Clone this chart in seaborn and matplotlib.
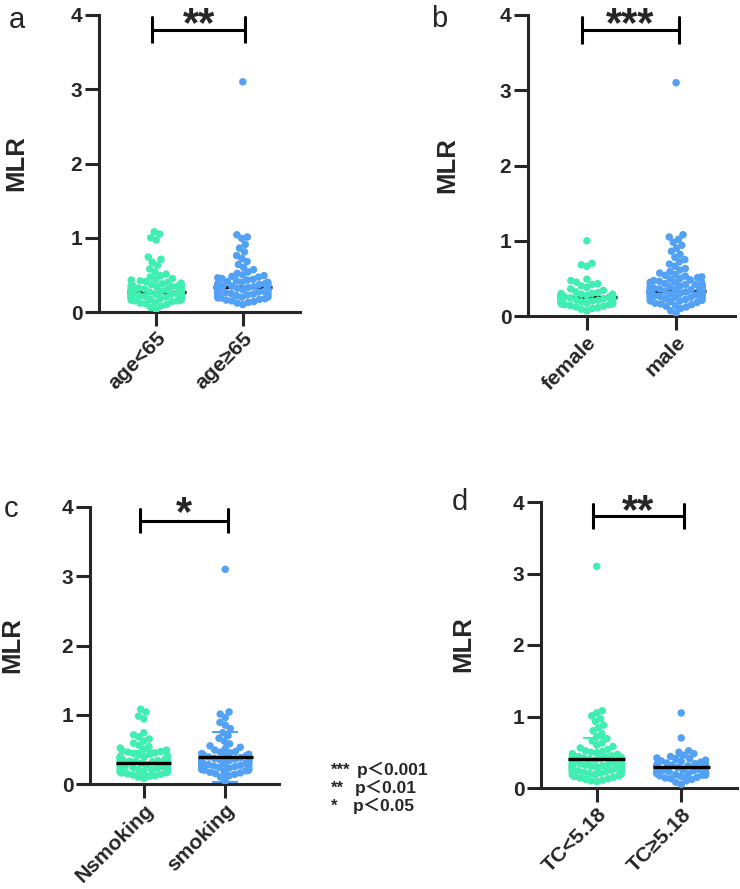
import numpy as np
import pandas as pd

import matplotlib as mpl
mpl.use('Agg')
import matplotlib.pyplot as plt

import seaborn as sns


green = '#3FEEB0'
blue = '#52A1F5'

# MLR values (one list per group)
age_lt65 = [1.08, 1.05, 1.00, 0.97, 0.74, 0.71, 0.67, 0.63, 0.58, 0.54, 0.51, 0.49, 0.47,
            0.45, 0.44, 0.43, 0.42, 0.41, 0.40, 0.39, 0.38, 0.37, 0.36, 0.36, 0.35, 0.35,
            0.34, 0.34, 0.33, 0.33, 0.32, 0.32, 0.31, 0.31, 0.30, 0.30, 0.29, 0.29, 0.28,
            0.28, 0.27, 0.27, 0.27, 0.26, 0.26, 0.25, 0.25, 0.25, 0.24, 0.24, 0.23, 0.23,
            0.22, 0.22, 0.22, 0.21, 0.21, 0.20, 0.20, 0.19, 0.19, 0.18, 0.18, 0.17, 0.17,
            0.16, 0.16, 0.15, 0.15, 0.14, 0.13, 0.12, 0.11, 0.10, 0.08, 0.06, 0.03]
age_ge65 = [3.10, 1.04, 1.01, 0.99, 0.91, 0.86, 0.81, 0.76, 0.72, 0.68, 0.64, 0.60, 0.57,
            0.54, 0.52, 0.50, 0.49, 0.48, 0.47, 0.46, 0.45, 0.44, 0.43, 0.42, 0.41, 0.40,
            0.40, 0.39, 0.38, 0.38, 0.37, 0.36, 0.36, 0.35, 0.35, 0.34, 0.34, 0.33, 0.33,
            0.32, 0.32, 0.31, 0.31, 0.30, 0.30, 0.29, 0.29, 0.28, 0.28, 0.27, 0.27, 0.26,
            0.26, 0.25, 0.25, 0.24, 0.24, 0.23, 0.23, 0.22, 0.22, 0.21, 0.21, 0.20, 0.20,
            0.19, 0.19, 0.18, 0.17, 0.16, 0.15, 0.14, 0.13, 0.12, 0.10]

female = [1.00, 0.70, 0.68, 0.66, 0.49, 0.47, 0.45, 0.43, 0.42, 0.40, 0.38, 0.36, 0.34,
          0.32, 0.31, 0.30, 0.30, 0.29, 0.29, 0.28, 0.28, 0.27, 0.27, 0.26, 0.26, 0.25,
          0.25, 0.25, 0.24, 0.24, 0.24, 0.23, 0.23, 0.22, 0.22, 0.21, 0.21, 0.20, 0.20,
          0.19, 0.19, 0.18, 0.18, 0.17, 0.17, 0.16, 0.16, 0.15, 0.15, 0.14, 0.13, 0.12,
          0.11, 0.10, 0.09, 0.07]
male = [3.10, 1.08, 1.05, 1.02, 0.98, 0.94, 0.90, 0.86, 0.82, 0.78, 0.75, 0.72, 0.69, 0.66,
        0.63, 0.61, 0.59, 0.57, 0.55, 0.54, 0.53, 0.52, 0.51, 0.50, 0.49, 0.48, 0.47, 0.46,
        0.45, 0.45, 0.44, 0.44, 0.43, 0.43, 0.42, 0.42, 0.41, 0.41, 0.40, 0.40, 0.40, 0.39,
        0.39, 0.38, 0.38, 0.38, 0.37, 0.37, 0.37, 0.36, 0.36, 0.36, 0.35, 0.35, 0.35, 0.34,
        0.34, 0.34, 0.33, 0.33, 0.33, 0.33, 0.32, 0.32, 0.32, 0.31, 0.31, 0.31, 0.30, 0.30,
        0.30, 0.29, 0.29, 0.29, 0.28, 0.28, 0.28, 0.27, 0.27, 0.27, 0.26, 0.26, 0.26, 0.25,
        0.25, 0.25, 0.24, 0.24, 0.23, 0.23, 0.22, 0.22, 0.21, 0.21, 0.20, 0.20, 0.19, 0.18,
        0.17, 0.16, 0.15, 0.14, 0.13, 0.12, 0.10, 0.07, 0.04]

nsmoking = [1.08, 1.04, 0.98, 0.94, 0.74, 0.71, 0.68, 0.65, 0.62, 0.59, 0.56, 0.54, 0.52,
            0.50, 0.49, 0.48, 0.47, 0.46, 0.45, 0.44, 0.43, 0.42, 0.41, 0.40, 0.40, 0.39,
            0.38, 0.38, 0.37, 0.37, 0.36, 0.36, 0.35, 0.35, 0.34, 0.34, 0.33, 0.33, 0.32,
            0.32, 0.31, 0.31, 0.30, 0.30, 0.29, 0.29, 0.28, 0.28, 0.27, 0.27, 0.26, 0.26,
            0.25, 0.25, 0.24, 0.24, 0.23, 0.23, 0.22, 0.22, 0.21, 0.21, 0.20, 0.20, 0.19,
            0.19, 0.18, 0.18, 0.17, 0.17, 0.16, 0.16, 0.15, 0.14, 0.13, 0.12, 0.11, 0.10, 0.08]
smoking = [3.10, 1.04, 1.01, 0.96, 0.89, 0.85, 0.80, 0.74, 0.70, 0.66, 0.62, 0.58, 0.55,
           0.53, 0.51, 0.49, 0.47, 0.46, 0.45, 0.44, 0.43, 0.42, 0.41, 0.40, 0.39, 0.38,
           0.37, 0.36, 0.36, 0.35, 0.35, 0.34, 0.33, 0.33, 0.32, 0.32, 0.31, 0.30, 0.30,
           0.29, 0.28, 0.28, 0.27, 0.27, 0.26, 0.25, 0.25, 0.24, 0.24, 0.23, 0.22, 0.22,
           0.21, 0.20, 0.20, 0.19, 0.18, 0.17, 0.16, 0.15, 0.14, 0.12, 0.10, 0.04]

tc_lt518 = [3.10, 1.08, 1.05, 1.01, 0.97, 0.93, 0.88, 0.84, 0.80, 0.76, 0.72, 0.69, 0.66,
            0.63, 0.60, 0.58, 0.56, 0.54, 0.52, 0.51, 0.50, 0.49, 0.48, 0.47, 0.46, 0.45,
            0.44, 0.44, 0.43, 0.43, 0.42, 0.42, 0.41, 0.41, 0.40, 0.40, 0.39, 0.39, 0.38,
            0.38, 0.37, 0.37, 0.36, 0.36, 0.35, 0.35, 0.35, 0.34, 0.34, 0.34, 0.33, 0.33,
            0.33, 0.32, 0.32, 0.32, 0.31, 0.31, 0.31, 0.30, 0.30, 0.30, 0.29, 0.29, 0.29,
            0.28, 0.28, 0.28, 0.27, 0.27, 0.27, 0.26, 0.26, 0.26, 0.25, 0.25, 0.25, 0.24,
            0.24, 0.24, 0.23, 0.23, 0.22, 0.22, 0.21, 0.21, 0.20, 0.20, 0.19, 0.19, 0.18,
            0.17, 0.16, 0.15, 0.14, 0.13, 0.12, 0.11, 0.10, 0.09]
tc_ge518 = [1.05, 0.70, 0.52, 0.50, 0.48, 0.46, 0.44, 0.42, 0.41, 0.40, 0.39, 0.38, 0.37,
            0.36, 0.35, 0.34, 0.33, 0.33, 0.32, 0.31, 0.30, 0.30, 0.29, 0.28, 0.28, 0.27,
            0.26, 0.26, 0.25, 0.24, 0.24, 0.23, 0.22, 0.22, 0.21, 0.20, 0.20, 0.19, 0.18,
            0.18, 0.17, 0.16, 0.15, 0.14, 0.13, 0.12, 0.10, 0.08, 0.05]

# group centre lines and SD caps
means_a = [0.27, 0.34]
means_b = [0.25, 0.33]
means_c = [0.31, 0.39]
sd_c = [0.17, 0.36]
means_d = [0.40, 0.30]
sd_d = [0.30, 0.15]

panels = [
    dict(letter='a', labels=['age<65', 'age≥65'], values=[age_lt65, age_ge65],
         means=means_a, sd=None, stars='**', box=(99, 300, 15, 312),
         letter_xy=(9, 28), ylab_xy=(16, 163), line_top=False, star_y=3.72),
    dict(letter='b', labels=['female', 'male'], values=[female, male],
         means=means_b, sd=None, stars='***', box=(528, 735, 15, 316),
         letter_xy=(431, 27), ylab_xy=(447, 165), line_top=False, star_y=3.72),
    dict(letter='c', labels=['Nsmoking', 'smoking'], values=[nsmoking, smoking],
         means=means_c, sd=sd_c, stars='*', box=(90, 279, 507, 784),
         letter_xy=(4, 517), ylab_xy=(12, 645), line_top=True, star_y=3.74),
    dict(letter='d', labels=['TC<5.18', 'TC≥5.18'], values=[tc_lt518, tc_ge518],
         means=means_d, sd=sd_d, stars='**', box=(541, 737, 502, 788),
         letter_xy=(452, 510), ylab_xy=(463, 644), line_top=True, star_y=3.71),
]

sns.set_style('ticks')
plt.rcParams['font.family'] = ['Liberation Sans', 'Noto Sans CJK SC', 'DejaVu Sans']

W, H = 740, 889
fig = plt.figure(figsize=(W / 100, H / 100), dpi=100)

for p in panels:
    x0, x1, ytop, ybot = p['box']
    ax = fig.add_axes([x0 / W, 1 - ybot / H, (x1 - x0) / W, (ybot - ytop) / H])
    ax.set_xlim(-0.66, 1.66)
    ax.set_ylim(0, 4)

    df = pd.concat([pd.DataFrame({'group': lab, 'MLR': vals})
                    for lab, vals in zip(p['labels'], p['values'])])
    sns.swarmplot(data=df, x='group', y='MLR', hue='group', order=p['labels'],
                  hue_order=p['labels'], palette=[green, blue], size=5.4,
                  linewidth=0, legend=False, ax=ax, zorder=3, warn_thresh=1)
    ax.set_xlim(-0.66, 1.66)
    ax.set_ylim(0, 4)
    # let seaborn place the swarm once, then freeze it and squeeze it a bit
    # so the dots overlap into a tighter blob
    fig.canvas.draw()
    for coll in ax.collections:
        coll.__dict__.pop('draw', None)
        off = np.asarray(coll.get_offsets()).copy()
        if len(off):
            ctr = np.round(np.median(off[:, 0]))
            off[:, 0] = ctr + (off[:, 0] - ctr) * 0.72
            coll.set_offsets(off)

    lz = 4 if p['line_top'] else 2
    for i, m in enumerate(p['means']):
        ax.hlines(m, i - 0.34, i + 0.34, color='black', lw=2.4, zorder=lz)
        if p['sd'] is not None:
            c = [green, blue][i]
            s = p['sd'][i]
            ax.vlines(i, m - s, m + s, color=c, lw=1.5, zorder=2)
            ax.hlines([m - s, m + s], i - 0.16, i + 0.16, color=c, lw=1.5, zorder=lz)

    # significance bracket
    ax.plot([-0.05, -0.05, 1.03, 1.03], [3.62, 3.8, 3.8, 3.62], color='black',
            lw=2.2, clip_on=False, solid_capstyle='butt')
    ax.plot([-0.05, -0.05], [3.8, 3.97], color='black', lw=2.2, clip_on=False)
    ax.plot([1.03, 1.03], [3.8, 3.97], color='black', lw=2.2, clip_on=False)
    ax.text(0.49, p['star_y'], p['stars'], ha='center', va='baseline', fontsize=30,
            fontweight='bold', clip_on=False)

    ax.set_yticks([0, 1, 2, 3, 4])
    ax.set_xlabel('')
    ax.set_ylabel('')
    sns.despine(ax=ax)
    for side in ['left', 'bottom']:
        ax.spines[side].set_linewidth(2.2)
    ax.tick_params(axis='both', length=10, width=2.2, labelsize=15, pad=2)
    for t in ax.get_yticklabels():
        t.set_fontweight('bold')
    ax.set_xticks([0, 1])
    ax.set_xticklabels(p['labels'], rotation=45, ha='right', rotation_mode='anchor',
                       fontweight='bold', fontsize=15.2)

    lx, ly = p['letter_xy']
    fig.text(lx / W, 1 - ly / H, p['letter'], fontsize=21, va='baseline', ha='left')
    yx, yy = p['ylab_xy']
    fig.text(yx / W, 1 - yy / H, 'MLR', fontsize=18.5, fontweight='bold',
             rotation=90, ha='center', va='center')

# p-value key
key = [('***', 'p＜0.001', 775), ('**', 'p＜0.01', 793), ('*', 'p＜0.05', 811)]
for stars, txt, base in key:
    fig.text(331 / W, 1 - base / H, stars, fontsize=12, fontweight='bold', va='baseline')
for (stars, txt, base), px in zip(key, [357, 355, 353]):
    fig.text(px / W, 1 - base / H, txt, fontsize=12.5, fontweight='bold', va='baseline')

fig.savefig('out.png', dpi=100)
